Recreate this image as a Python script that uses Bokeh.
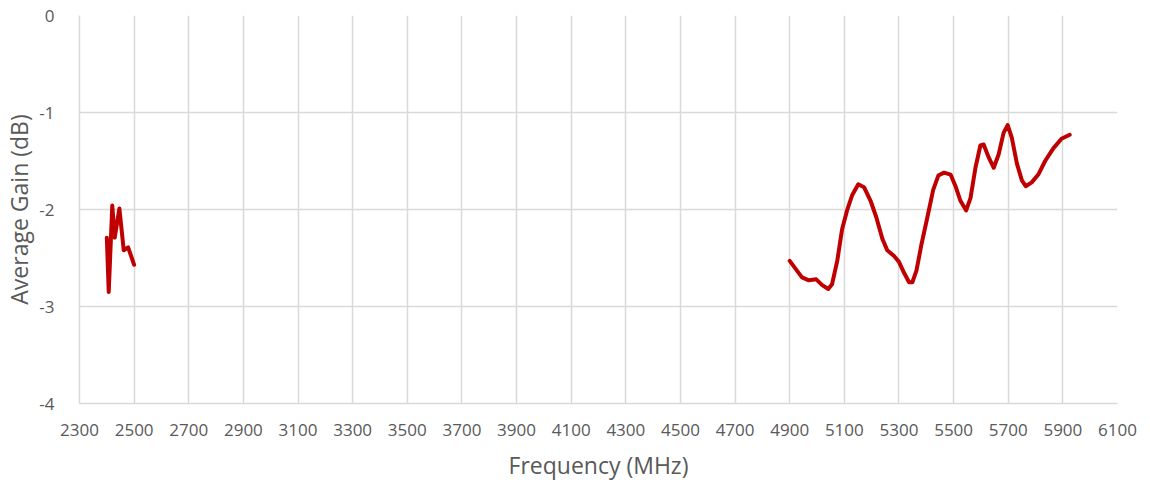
from bokeh.plotting import figure
from bokeh.models import ColumnDataSource, FixedTicker, Range1d
from bokeh.embed import file_html
from bokeh.resources import INLINE

# Average gain measured across the 2.4 GHz and 5 GHz bands
freq_24 = [2400, 2407, 2420, 2429, 2446, 2462, 2478, 2500]
gain_24 = [-2.29, -2.85, -1.96, -2.29, -1.99, -2.42, -2.39, -2.57]

freq_5 = [4900, 4921, 4945, 4970, 4997, 5019, 5041, 5055, 5074, 5092, 5110,
          5129, 5151, 5172, 5196, 5217, 5239, 5257, 5282, 5300, 5318, 5337,
          5349, 5364, 5383, 5404, 5425, 5444, 5465, 5489, 5507, 5525, 5546,
          5562, 5580, 5598, 5610, 5628, 5647, 5665, 5683, 5698, 5713, 5732,
          5750, 5764, 5786, 5810, 5835, 5865, 5895, 5925]
gain_5 = [-2.53, -2.61, -2.70, -2.73, -2.72, -2.78, -2.82, -2.77, -2.53, -2.20, -2.01,
          -1.85, -1.74, -1.77, -1.91, -2.08, -2.30, -2.42, -2.48, -2.54, -2.65, -2.75,
          -2.75, -2.63, -2.35, -2.08, -1.80, -1.65, -1.62, -1.64, -1.76, -1.91, -2.01,
          -1.88, -1.57, -1.34, -1.33, -1.46, -1.57, -1.43, -1.21, -1.13, -1.26, -1.53,
          -1.70, -1.76, -1.72, -1.64, -1.50, -1.37, -1.27, -1.23]

x_ticks = list(range(2300, 6101, 200))
y_ticks = [0, -1, -2, -3, -4]
y_tick_labels = {t: str(t) for t in y_ticks}

FONT = "Open Sans"
TEXT = "#595959"
GRID = "#d9d9d9"
LINE = "#c00000"

p = figure(width=1150, height=486, output_backend="svg", toolbar_location=None,
           x_range=Range1d(2300, 6100), y_range=Range1d(-4, 0),
           min_border_left=10, min_border_right=33, min_border_top=15,
           min_border_bottom=83)
p.outline_line_color = None
p.background_fill_color = "white"

for xs, ys in ((freq_24, gain_24), (freq_5, gain_5)):
    src = ColumnDataSource(dict(x=xs, y=ys))
    p.line("x", "y", source=src, line_color=LINE, line_width=4,
           line_join="round", line_cap="round")

p.xaxis.ticker = FixedTicker(ticks=x_ticks)
p.yaxis.ticker = FixedTicker(ticks=y_ticks)
p.yaxis.major_label_overrides = y_tick_labels
p.xgrid.ticker = FixedTicker(ticks=x_ticks)
p.ygrid.ticker = FixedTicker(ticks=y_ticks)
p.grid.grid_line_color = GRID
p.grid.grid_line_width = 1.5

for ax in (p.xaxis, p.yaxis):
    ax.axis_line_color = GRID
    ax.axis_line_width = 1.5
    ax.major_tick_line_color = None
    ax.minor_tick_line_color = None
    ax.major_label_text_font = FONT
    ax.major_label_text_color = TEXT
    ax.major_label_text_font_size = "17px"
    ax.axis_label_text_font = FONT
    ax.axis_label_text_color = TEXT
    ax.axis_label_text_font_size = "23px"
    ax.axis_label_text_font_style = "normal"

p.xaxis.axis_label = "Frequency (MHz)"
p.yaxis.axis_label = "Average Gain (dB)"
p.xaxis.major_label_standoff = 14
p.yaxis.major_label_standoff = 19
p.xaxis.axis_label_standoff = 10
p.yaxis.axis_label_standoff = 1

open("out.html", "w").write(file_html(p, INLINE))
